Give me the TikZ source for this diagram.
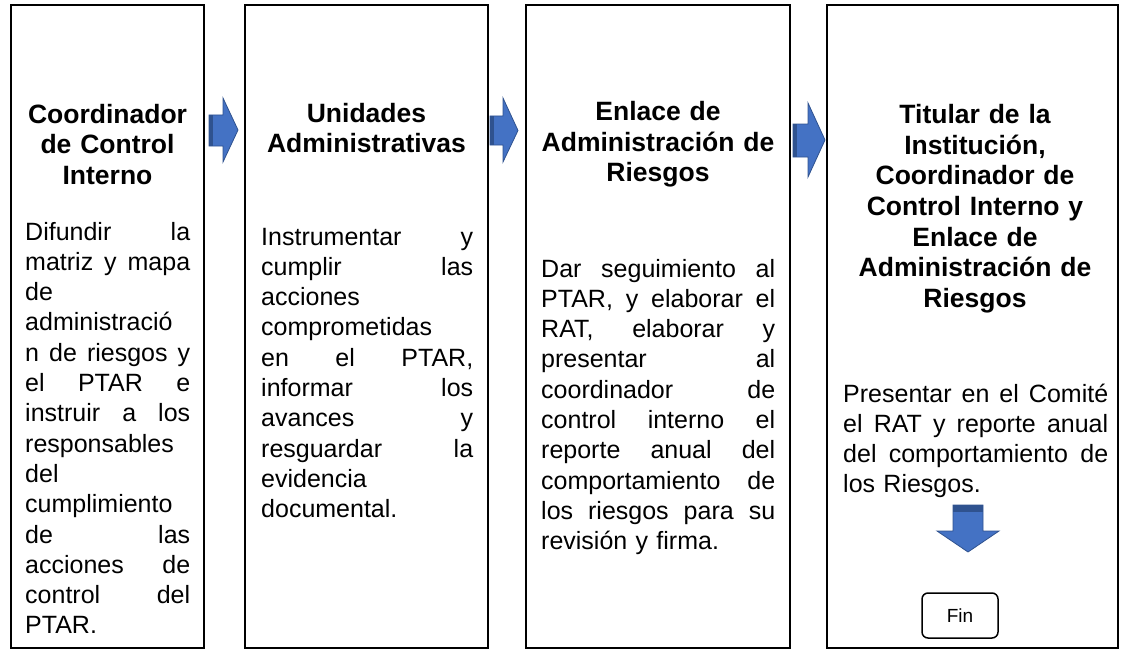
\documentclass[tikz,border=0pt]{standalone}
\usepackage{fontspec}
\setmainfont{Liberation Sans}
\usetikzlibrary{positioning}
\definecolor{flecha}{RGB}{68,114,196}
\definecolor{flechaborde}{RGB}{47,82,143}
\tikzset{
  etapa/.style={draw=black, line width=2pt, minimum width=#1, minimum height=643, inner sep=0pt},
  titulo/.style={font=\fontsize{26.5}{30.5}\selectfont\bfseries, text width=#1, align=center, inner sep=0pt, anchor=base},
  cuerpo/.style={font=\fontsize{25}{30.3}\selectfont, text width=#1, align=left, inner sep=0pt, anchor=base west},
  flechabloque/.style={fill=flecha, draw=flechaborde, line width=0.8pt},
  finbox/.style={draw=black, line width=1.5pt, rounded corners=6pt, minimum width=76, minimum height=45, inner sep=0pt, font=\fontsize{19}{22}\selectfont}
}

\begin{document}
\begin{tikzpicture}[x=1pt,y=-1pt]
\useasboundingbox (0,0) rectangle (1123,650);

% etapas
\node[etapa=193] (coord) at (107.5,326.5) {};
\node[etapa=243] (unidades) at (366.5,326.5) {};
\node[etapa=264] (enlace) at (658,326.5) {};
\node[etapa=291] (titular) at (972.5,326.5) {};

% titulos
\node[titulo=185] (tcoord) at (107.5,123) {Coordinador\\de Control\\Interno};
\node[titulo=235] (tunidades) at (366.5,122) {Unidades\\Administrativas};
\node[titulo=255] (tenlace) at (658,121) {Enlace de\\Administración de\\Riesgos};
\node[titulo=280] (ttitular) at (975,124) {Titular de la\\Institución,\\Coordinador de\\Control Interno y\\Enlace de\\Administración de\\Riesgos};

% textos
\node[cuerpo=165] (ccoord) at (25,240) {Difundir \hfill la\\
matriz \hfill y \hfill mapa\\
de\\
administració\\
n \hfill de \hfill riesgos \hfill y\\
el \hfill PTAR \hfill e\\
instruir \hfill a \hfill los\\
responsables\\
del\\
cumplimiento\\
de \hfill las\\
acciones \hfill de\\
control \hfill del\\
PTAR.};
\node[cuerpo=212] (cunidades) at (261,245) {Instrumentar \hfill y\\
cumplir \hfill las\\
acciones\\
comprometidas\\
en \hfill el \hfill PTAR,\\
informar \hfill los\\
avances \hfill y\\
resguardar \hfill la\\
evidencia\\
documental.};
\node[cuerpo=234] (cenlace) at (541,277) {Dar \hfill seguimiento \hfill al\\
PTAR, \hfill y \hfill elaborar \hfill el\\
RAT, \hfill elaborar \hfill y\\
presentar \hfill al\\
coordinador \hfill de\\
control \hfill interno \hfill el\\
reporte \hfill anual \hfill del\\
comportamiento \hfill de\\
los \hfill riesgos \hfill para \hfill su\\
revisión y firma.};
\node[cuerpo=265] (ctitular) at (843,402) {Presentar \hfill en \hfill el \hfill Comité\\
el \hfill RAT \hfill y \hfill reporte \hfill anual\\
del \hfill comportamiento \hfill de\\
los Riesgos.};

% flechas
\filldraw[flechabloque] (209,115) -- (223,115) -- (223,98) -- (238,130) -- (223,162) -- (223,146) -- (209,146) -- cycle;
\fill[flechaborde] (209,115) rectangle (213,146);
\filldraw[flechabloque] (490,116) -- (503,116) -- (503,98) -- (518,130.5) -- (503,162) -- (503,145) -- (490,145) -- cycle;
\fill[flechaborde] (490,116) rectangle (494,145);
\filldraw[flechabloque] (793,124) -- (808,124) -- (808,103) -- (825,140) -- (808,177) -- (808,157) -- (793,157) -- cycle;
\fill[flechaborde] (793,124) rectangle (797,157);
\filldraw[flechabloque] (953,505) -- (983,505) -- (983,531) -- (999,531) -- (968,552) -- (937,531) -- (953,531) -- cycle;
\fill[flechaborde] (953,505) rectangle (983,512);

% fin
\node[finbox] (fin) at (960,615.5) {Fin};

\end{tikzpicture}
\end{document}
